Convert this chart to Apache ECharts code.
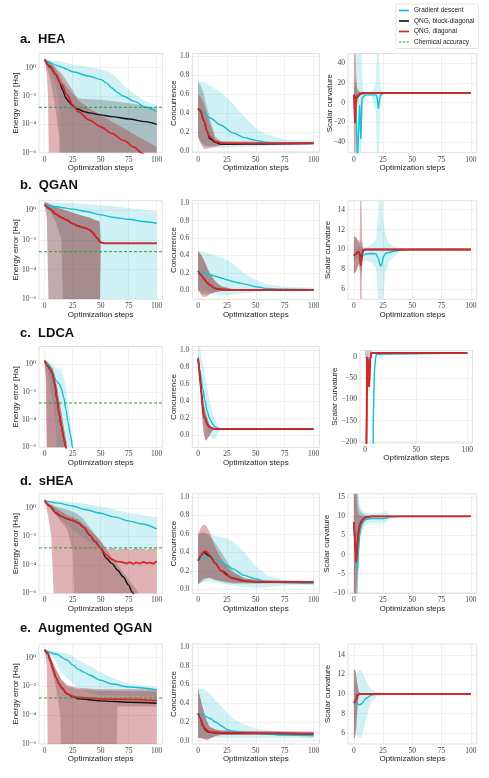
<!DOCTYPE html>
<html><head><meta charset="utf-8">
<script src="https://cdn.jsdelivr.net/npm/echarts@6/dist/echarts.min.js"></script>
<style>html,body{margin:0;padding:0;background:#fff}#c{width:489px;height:778px}</style>
</head><body><div id="c"></div>
<script>
// ---------------- DATA ----------------
// Row a: HEA
const aE_gdX = [0,5,10,13,15,20,25,40,50,55,60,65,70,80,90,100];
const aE_gd = [3.7,2.2,1.5,1.3,1.1,0.76,0.51,0.25,0.15,0.085,0.037,0.018,0.01,4.2e-3,1.6e-3,8e-4];
const aE_gdHi = [3.7,3.4,3.0,2.8,2.6,2.1,1.7,1.1,0.76,0.6,0.4,0.18,0.063,0.014,4.5e-3,2.2e-3];
const aE_gdLoX = [0,5,10,13,15,100];
const aE_gdLo = [3.7,0.6,0.06,3e-3,1e-8,1e-8];
const aE_bdX = [0,5,10,13,16,19,22,24,27,30,35,40,50,60,75,90,100];
const aE_bd = [3.7,1.1,0.33,0.11,0.028,7.2e-3,3.7e-3,2.4e-3,1.55e-3,1.17e-3,7.9e-4,6.5e-4,4.7e-4,3.5e-4,2.4e-4,1.55e-4,1e-4];
const aE_bdHi = [3.7,2.8,0.76,0.32,0.1,0.05,0.025,0.016,0.01,7.2e-3,6.3e-3,6e-3,5.5e-3,4.5e-3,3.2e-3,2e-3,1.4e-3];
const aE_bdLoX = [0,5,10,13,14,100];
const aE_bdLo = [3.7,0.16,1e-3,1e-5,1e-8,1e-8];
const aE_dgX = [0,5,10,15,20,25,30,40,50,60,70,80,86,90];
const aE_dg = [3.7,1.3,0.33,0.065,0.0126,2.4e-3,8e-4,2e-4,6.8e-5,2.3e-5,7.6e-6,2.5e-6,1e-6,6.3e-7];
const aE_dgHiX = [0,5,10,15,20,25,30,40,50,60,75,100];
const aE_dgHi = [3.7,2.2,1.0,0.4,0.1,0.025,5e-3,1.26e-3,5e-4,1.6e-4,3.2e-5,2.5e-6];
const aE_dgLoX = [0,2,3,4,100];
const aE_dgLo = [3.7,0.3,0.01,1e-8,1e-8];

const aC_gdX = [0,5,10,20,30,40,50,60,75,100];
const aC_gd = [0.45,0.41,0.35,0.27,0.19,0.14,0.11,0.088,0.08,0.08];
const aC_gdHi = [0.73,0.73,0.69,0.62,0.5,0.36,0.24,0.17,0.12,0.11];
const aC_gdLo = [0.15,0.06,0.04,0.03,0.035,0.04,0.045,0.05,0.06,0.065];
const aC_bdX = [0,2,5,8,10,15,20,25,40,100];
const aC_bd = [0.45,0.42,0.32,0.2,0.13,0.09,0.07,0.068,0.072,0.08];
const aC_bdHi = [0.73,0.7,0.6,0.45,0.35,0.15,0.1,0.095,0.09,0.09];
const aC_bdLo = [0.15,0.1,0.05,0.05,0.05,0.055,0.06,0.062,0.065,0.07];
const aC_dgX = [0,2,5,8,10,15,20,30,100];
const aC_dg = [0.45,0.43,0.33,0.2,0.15,0.1,0.08,0.078,0.08];
const aC_dgHi = [0.6,0.58,0.5,0.38,0.3,0.12,0.1,0.1,0.09];
const aC_dgLo = [0.15,0.08,0.02,0.025,0.03,0.04,0.06,0.065,0.07];

const aS_gdX = [0,1,2,3,4,5,6,7,8,10,15,19,20,21,22,23,25,30,100];
const aS_gd = [8,7,-10,-60,-60,-2,-37,5,7,8,8,8,4,-6,4,8,9.5,10,10];
const aS_gdHi = [9,12,80,80,80,80,80,30,12,10,10.5,20,80,80,30,12,10.5,10,10];
const aS_gdLo = [7,2,-80,-80,-80,-80,-80,-20,2,6,7,-10,-80,-80,-30,4,9.5,10,10];
const aS_bdX = [0,1,2,3,4,5,6,7,10,100];
const aS_bd = [8,5,3,6,8,9,9.5,9.7,10,10];
const aS_bdHi = [12,25,20,15,13,12,11,10.5,10.2,10];
const aS_bdLo = [4,-10,-8,0,4,6,8,9,9.8,10];
const aS_dgX = [0,1,2,3,4,5,6,8,10,100];
const aS_dg = [8,-21,4,7,8,8.5,9,9.5,10,10];
const aS_dgHi = [80,80,30,12,11,10.5,10.3,10.1,10,10];
const aS_dgLo = [-80,-80,-20,3,6,7.5,8.5,9.3,10,10];

// Row b: QGAN
const bE_gdX = [0,10,25,37,50,62,75,88,100];
const bE_gd = [2.3,1.7,1.17,0.81,0.48,0.32,0.245,0.17,0.13];
const bE_gdHi = [3.5,3.3,3.0,2.6,2.1,1.8,1.4,1.07,0.81];
const bE_gdLoX = [0,2,4,100];
const bE_gdLo = [2.3,0.3,1e-8,1e-8];
const bE_dgX = [0,5,10,15,20,25,30,35,40,43,46,50,53,100];
const bE_dg = [2.3,1.17,0.54,0.32,0.21,0.123,0.085,0.066,0.048,0.03,0.015,6.9e-3,5.8e-3,5.8e-3];
const bE_dgHiX = [0,10,20,30,40,45,49,50,53,100];
const bE_dgHi = [3.5,1.6,0.9,0.5,0.32,0.22,0.18,7e-3,5.8e-3,5.8e-3];
const bE_dgLoX = [0,2,4,49,50,53,100];
const bE_dgLo = [2.3,0.3,1e-8,1e-8,6.8e-3,5.8e-3,5.8e-3];
const bE_bdLoX = [0,5,10,15,17,49,50,53,100];
const bE_bdLo = [2.3,0.8,0.15,0.01,1e-8,1e-8,6.8e-3,5.8e-3,5.8e-3];

const bC_gdX = [0,5,10,15,20,25,30,35,40,50,60,75,100];
const bC_gd = [0.22,0.2,0.18,0.16,0.14,0.12,0.1,0.085,0.07,0.04,0.02,0.01,0.005];
const bC_gdHi = [0.45,0.44,0.42,0.4,0.38,0.35,0.31,0.25,0.19,0.12,0.065,0.04,0.03];
const bC_gdLo = [0.0,-0.01,-0.02,-0.04,-0.06,-0.06,-0.05,-0.04,-0.035,-0.02,-0.01,-0.005,0.0];
const bC_dgX = [0,3,5,8,10,15,20,30,100];
const bC_dg = [0.22,0.17,0.13,0.085,0.06,0.02,0.008,0.003,0.0];
const bC_dgHi = [0.45,0.4,0.35,0.25,0.2,0.1,0.04,0.01,0.003];
const bC_dgLo = [0.0,-0.06,-0.08,-0.07,-0.05,-0.02,-0.01,0.0,0.0];
const bC_bdHi = [0.45,0.4,0.35,0.26,0.2,0.1,0.05,0.015,0.003];
const bC_bdLo = [0.0,-0.04,-0.05,-0.05,-0.04,-0.02,-0.01,0.0,0.0];

const bS_gdX = [0,2,4,5,6,7,8,10,15,19,20,21,22,23,24,25,27,30,35,40,50,100];
const bS_gd = [9.4,9.6,9.75,9.6,8.9,9.3,9.5,9.55,9.6,9.55,9.4,9.1,8.6,8.3,8.6,9.2,9.6,9.7,9.85,9.95,10,10];
const bS_gdHi = [10,10.2,10.4,10.3,10.3,10.2,10.2,10.2,10.5,11,12.5,14,20,20,20,13,11.5,10.6,10.3,10.1,10,10];
const bS_gdLo = [8.8,9,9.1,8.9,7.5,8.4,8.8,8.9,8.7,8.1,6.5,4,0,0,0,5,7.7,8.8,9.4,9.8,10,10];
const bS_dgX = [0,2,4,5,6,7,8,10,100];
const bS_dg = [9.4,9.6,9.8,9.5,8.4,9.5,9.95,10,10];
const bS_dgHi = [11.3,11.2,10.8,11,20,11,10.1,10,10];
const bS_dgLo = [7.6,7.8,8.5,8,0,8.5,9.8,10,10];
const bS_bdHi = [11.3,11.2,10.8,10.5,11,10.5,10.1,10,10];
const bS_bdLo = [7.6,7.8,8.5,8.5,7,8.5,9.8,10,10];

// Row c: LDCA
const cE_gdX = [0,3,5,8,10,13,15,17,19,21,23,25,27];
const cE_gd = [1.7,1.0,0.58,0.16,0.068,0.039,0.017,4.1e-3,5.8e-4,6e-5,8.5e-6,1e-6,1e-7];
const cE_gdHi = [2.2,1.8,1.26,0.8,0.56,0.4,0.32,0.126,0.016,1e-3,6.3e-5,3.2e-6,3.2e-7];
const cE_gdLoX = [0,3,5,8,10,12,100];
const cE_gdLo = [1.4,0.25,0.03,1e-3,3e-5,1e-8,1e-8];
const cE_dgX = [0,3,5,7,9,11,13,15,17,19,21];
const cE_dg = [1.7,0.7,0.41,0.21,0.039,3.2e-3,2.5e-4,3.5e-5,5e-6,1e-6,1.6e-7];
const cE_dgHi = [2.2,1.26,0.8,0.5,0.16,0.025,2.5e-3,3.2e-4,3.2e-5,4e-6,3.2e-7];
const cE_dgLoX = [0,1,2,100];
const cE_dgLo = [1.7,0.1,1e-8,1e-8];
const cE_bdLoX = [0,1.5,2.5,100];
const cE_bdLo = [1.7,0.05,1e-8,1e-8];

const cC_gdX = [0,2,4,6,8,10,12,14,16,18,20,100];
const cC_gd = [0.9,0.72,0.55,0.4,0.28,0.2,0.15,0.11,0.09,0.08,0.077,0.077];
const cC_gdHi = [1.1,1.0,0.85,0.7,0.55,0.4,0.3,0.22,0.15,0.11,0.08,0.077];
const cC_gdLo = [0.75,0.5,0.32,0.15,0.05,0.0,-0.04,-0.04,-0.01,0.04,0.07,0.077];
const cC_dgX = [0,1,2,3,4,5,6,7,8,10,12,15,100];
const cC_dg = [0.9,0.78,0.63,0.49,0.34,0.22,0.21,0.17,0.13,0.1,0.085,0.077,0.077];
const cC_dgHi = [0.95,0.88,0.75,0.6,0.45,0.35,0.3,0.25,0.2,0.12,0.09,0.08,0.077];
const cC_dgLo = [0.8,0.65,0.5,0.3,0.15,0.02,-0.04,-0.06,-0.04,0.0,0.05,0.075,0.077];

const cS_gdX = [0,5,6,7,8,9,10,11,12,100];
const cS_gd = [-500,-500,-250,-500,-150,-40,-5,7,10,10];
const cS_gdHi = [-400,-400,-200,-400,-100,-20,0,9,10.5,10];
const cS_gdLo = [-600,-600,-300,-600,-200,-60,-15,5,9.5,10];
const cS_dgX = [0,1,2,3,4,5,6,100];
const cS_dg = [-400,-300,0,-10,-70,-5,10,10];
const cS_dgHi = [-300,-150,10,0,-50,5,10.5,10];
const cS_dgLo = [-500,-400,-10,-30,-90,-15,9.5,10];
const cS_bdBX = [0,6,7,100];
const cS_bdHi = [40,40,10.5,10];
const cS_bdLo = [-3,-3,9.5,10];

// Row d: sHEA
const dE_gdX = [0,12,25,37,50,62,75,87,100];
const dE_gd = [3.3,2.2,1.4,0.76,0.43,0.24,0.126,0.076,0.035];
const dE_gdHi = [3.3,3.2,2.6,2.0,1.3,0.8,0.45,0.32,0.23];
const dE_gdLoX = [0,5,10,20,30,40,50,60,100];
const dE_gdLo = [3.2,1.0,0.32,0.063,0.016,4e-3,1.6e-3,1.1e-3,1.1e-3];
const dE_dgX = [0,5,10,15,20,25,30,35,40,45,50,55,60,65,70,73,76,79,82,85,88,91,94,97,100];
const dE_dg = [3.3,1.32,0.45,0.26,0.18,0.135,0.091,0.044,0.013,4.5e-3,1.5e-3,5.1e-4,2.5e-4,1.74e-4,1.55e-4,1.26e-4,1.58e-4,1.2e-4,1.51e-4,1.26e-4,1.66e-4,1.32e-4,1.48e-4,1.26e-4,1.9e-4];
const dE_dgHiX = [0,10,20,30,40,50,55,58,61,64,67,70,73,76,79,82,85,88,91,94,97,100];
const dE_dgHi = [3.3,1.0,0.32,0.16,0.032,5e-3,1.4e-3,1.26e-3,1.6e-3,1.1e-3,1.4e-3,1.26e-3,1.6e-3,1.1e-3,1.3e-3,1.6e-3,1.2e-3,1.4e-3,1.1e-3,1.5e-3,1.26e-3,1.4e-3];
const dE_dgLoX = [0,3,6,9,100];
const dE_dgLo = [3.2,0.32,0.01,1e-8,1e-8];
const dE_bdX = [0,5,10,15,20,25,30,35,40,45,50,55,60,65,70,75,78,80];
const dE_bd = [3.3,1.32,0.45,0.26,0.18,0.135,0.091,0.044,0.013,4.5e-3,1.5e-3,3e-4,1.3e-4,4.5e-5,1.5e-5,3.9e-6,1.3e-6,6.3e-7];
const dE_bdHiX = [0,10,20,28,34,40,50,60,75,85,90];
const dE_bdHi = [3.3,1.26,0.8,0.45,0.2,0.047,4.1e-3,3.6e-4,9.5e-6,8.5e-7,2.5e-7];
const dE_bdLoX = [0,10,20,25,27,100];
const dE_bdLo = [3.2,0.32,0.032,1e-3,1e-8,1e-8];

const dC_gdX = [0,5,10,15,20,25,30,40,50,60,75,100];
const dC_gd = [0.31,0.34,0.35,0.32,0.3,0.26,0.22,0.15,0.11,0.08,0.07,0.06];
const dC_gdHi = [0.6,0.6,0.6,0.58,0.56,0.55,0.52,0.4,0.25,0.15,0.1,0.09];
const dC_gdLo = [0.05,0.08,0.09,0.07,0.06,0.05,0.04,0.02,0.01,0.02,0.04,0.05];
const dC_dgX = [0,3,5,7,10,15,20,25,30,40,50,75,100];
const dC_dg = [0.31,0.37,0.41,0.41,0.37,0.28,0.2,0.15,0.115,0.087,0.08,0.078,0.078];
const dC_dgHi = [0.6,0.68,0.7,0.69,0.62,0.45,0.33,0.25,0.18,0.12,0.1,0.09,0.09];
const dC_dgLo = [0.05,0.1,0.12,0.12,0.12,0.1,0.09,0.08,0.07,0.07,0.07,0.07,0.07];
const dC_bdX = [0,5,10,15,20,30,40,50,100];
const dC_bd = [0.31,0.4,0.36,0.28,0.2,0.12,0.09,0.08,0.075];
const dC_bdHi = [0.6,0.62,0.58,0.5,0.4,0.2,0.12,0.1,0.09];
const dC_bdLo = [0.05,0.1,0.13,0.1,0.08,0.06,0.06,0.06,0.07];

const dS_gdX = [0,1,2,3,4,5,7,10,15,20,25,27,30,40,100];
const dS_gd = [8.5,5,0,-4,1.5,5.9,8.1,9.2,9.4,9.4,9.4,9.5,9.8,10,10];
const dS_gdHi = [20,20,20,20,15,13,11.8,11,10.8,10.8,11,11.5,10.5,10.1,10];
const dS_gdLo = [-15,-15,-15,-15,-5,3,6,7.8,8.2,8.2,8.2,8.3,9.2,9.9,10];
const dS_dgX = [0,1,2,3,4,5,7,10,15,100];
const dS_dg = [8.5,3.3,-2.1,2.4,5.9,7.6,8.9,9.8,10,10];
const dS_dgHi = [20,20,18,12,10.5,10.2,10.1,10,10,10];
const dS_dgLo = [-15,-15,-10,-5,1,5,7.8,9.5,10,10];
const dS_bdX = [0,1,2,3,4,5,7,10,15,20,30,100];
const dS_bd = [8.5,3,-1.5,2.5,6,7.8,9,9.8,10,10,10,10];
const dS_bdHi = [20,20,20,17,13,11.5,10.8,10.3,10.2,10.1,10.05,10];
const dS_bdLo = [-15,-15,-15,-12,-2,4,7.5,9,9.4,9.6,9.9,10];

// Row e: Augmented QGAN
const eE_gdX = [0,10,20,25,30,35,40,50,60,75,100];
const eE_gd = [3.5,1.8,0.7,0.32,0.16,0.1,0.063,0.027,0.0148,9.3e-3,6e-3];
const eE_gdHi = [3.5,2.8,2.0,1.26,0.7,0.45,0.28,0.1,0.04,0.016,8.9e-3];
const eE_gdLoX = [0,8,12,15,20,25,30,40,50,100];
const eE_gdLo = [3.5,1.0,0.25,0.1,0.04,0.016,8e-3,4e-3,2.5e-3,2e-3];
const eE_dgX = [0,3,5,8,10,13,15,20,25,30,50,75,100];
const eE_dg = [3.5,2.0,0.68,0.13,0.044,0.0148,8.5e-3,3.2e-3,2.1e-3,1.74e-3,1.38e-3,1.26e-3,1.05e-3];
const eE_bd = [3.5,2.0,0.68,0.13,0.044,0.0148,8.5e-3,3.2e-3,1.9e-3,1.4e-3,1e-3,8e-4,6.9e-4];
const eE_dgHiX = [0,5,10,15,20,30,50,100];
const eE_dgHi = [4,1.26,0.16,0.032,0.0126,8e-3,6.3e-3,6.3e-3];
const eE_dgLoX = [0,2,3,100];
const eE_dgLo = [3.5,0.3,1e-8,1e-8];
const eE_bdHi = [4,1.26,0.16,0.025,0.01,6.3e-3,5e-3,4.5e-3];
const eE_bdLoX = [0,5,10,14,15,64,65,100];
const eE_bdLo = [3.5,0.32,0.01,1e-4,1e-8,1e-8,4e-4,4e-4];

const eC_gdX = [0,5,10,15,20,25,30,40,50,75,100];
const eC_gd = [0.29,0.27,0.24,0.2,0.16,0.12,0.1,0.085,0.078,0.06,0.053];
const eC_gdHi = [0.55,0.55,0.5,0.43,0.37,0.3,0.24,0.17,0.13,0.09,0.08];
const eC_gdLo = [0.03,0.03,0.03,0.03,0.025,0.025,0.025,0.025,0.025,0.025,0.025];
const eC_dgX = [0,2,4,6,8,10,15,20,50,100];
const eC_dg = [0.29,0.24,0.17,0.13,0.11,0.095,0.09,0.085,0.08,0.075];
const eC_bd = [0.29,0.24,0.16,0.12,0.1,0.09,0.085,0.082,0.078,0.073];
const eC_dgHi = [0.55,0.45,0.35,0.27,0.2,0.15,0.12,0.11,0.1,0.095];
const eC_dgLo = [0.03,0.03,0.02,0.015,0.01,0.02,0.05,0.06,0.06,0.06];

const eS_gdX = [0,2,3,5,7,10,13,15,20,25,30,100];
const eS_gd = [9.1,9.07,9.0,8.9,9.05,9.5,9.75,9.9,10,10,10,10];
const eS_gdHi = [10.5,11.5,12,12.5,12.3,11.5,10.8,10.5,10.2,10.1,10,10];
const eS_gdLo = [7.5,6,5.7,5.4,5.8,7.2,8.5,9.2,9.8,9.95,10,10];
const eS_dgX = [0,1,2,3,4,5,100];
const eS_dg = [9.1,9.0,9.4,9.9,10,10,10];
const eS_dgHi = [12.4,12.5,12,11,10.3,10.1,10];
const eS_dgLo = [5.5,5.5,6.5,8.5,9.7,9.9,10];

// Axis values and labels
const chemAcc = 1.6e-3;
const titles = ['a.  HEA','b.  QGAN','c.  LDCA','d.  sHEA','e.  Augmented QGAN'];
const legendNames = ['Gradient descent','QNG, block-diagonal','QNG, diagonal','Chemical accuracy'];
const energyMax = [10, 4.3, 18.6, 10, 9];
const energyTicks = [1e-6, 1e-4, 1e-2, 1];
const concRange = [[-0.02,1.03],[-0.105,1.03],[-0.14,1.04],[-0.047,1.036],[-0.035,1.03]];
const concTicks = [0, 0.2, 0.4, 0.6, 0.8, 1.0];
const scalRange = [[-51,50.2],[5,14.9],[-203,16],[-10.2,15.9],[4.9,15.1]];
const scalTicks = [[-40,-20,0,20,40],[6,8,10,12,14],[-200,-150,-100,-50,0],[-10,-5,0,5,10,15],[6,8,10,12,14]];
const stepTicks = [0,25,50,75,100];
const stepTicksWide = [0,50,100];

// ---------------- LAYOUT / STYLE ----------------
const SERIF = '"Liberation Serif","DejaVu Serif",serif';
const SANS = '"Liberation Sans","DejaVu Sans",sans-serif';
const rowTop = [53.5, 200.7, 346.5, 493.8, 644];
const rowH = [99.2, 98.6, 101, 99.7, 100];
const titleY = [39, 185.5, 333, 481, 628.5];
const colLeft = [39, 192.3, 348];
const colW = [123.3, 127, 128.7];
const scalGap = [14, 16, 21, 17, 16];
const COL = {gd:'#17becf', bd:'#111111', dg:'#d62728'};
const BAND = {gd:'rgba(23,190,207,0.2)', bd:'rgba(0,0,0,0.2)', dg:'rgba(165,45,50,0.36)'};
const LW = {gd:1.4, bd:1.4, dg:1.8};
const NAMES = {gd:'Gradient descent', bd:'QNG, block-diagonal', dg:'QNG, diagonal'};
const ICON_LINE = 'path://M0,0H12V2H0Z';
const ICON_DASH = 'path://M0,0H3V1.3H0Z M4.5,0H7.5V1.3H4.5Z M9,0H12V1.3H9Z';

function S(x, y, hx, hi, lx, lo){ return {x, y, hx, hi, lx, lo}; }

const panels = [
  {row:0,col:0,kind:'E',
   gd:S(aE_gdX,aE_gd,aE_gdX,aE_gdHi,aE_gdLoX,aE_gdLo),
   bd:S(aE_bdX,aE_bd,aE_bdX,aE_bdHi,aE_bdLoX,aE_bdLo),
   dg:S(aE_dgX,aE_dg,aE_dgHiX,aE_dgHi,aE_dgLoX,aE_dgLo)},
  {row:0,col:1,kind:'C',
   gd:S(aC_gdX,aC_gd,aC_gdX,aC_gdHi,aC_gdX,aC_gdLo),
   bd:S(aC_bdX,aC_bd,aC_bdX,aC_bdHi,aC_bdX,aC_bdLo),
   dg:S(aC_dgX,aC_dg,aC_dgX,aC_dgHi,aC_dgX,aC_dgLo)},
  {row:0,col:2,kind:'S',
   gd:S(aS_gdX,aS_gd,aS_gdX,aS_gdHi,aS_gdX,aS_gdLo),
   bd:S(aS_bdX,aS_bd,aS_bdX,aS_bdHi,aS_bdX,aS_bdLo),
   dg:S(aS_dgX,aS_dg,aS_dgX,aS_dgHi,aS_dgX,aS_dgLo)},
  {row:1,col:0,kind:'E',
   gd:S(bE_gdX,bE_gd,bE_gdX,bE_gdHi,bE_gdLoX,bE_gdLo),
   bd:S(bE_dgX,bE_dg,bE_dgHiX,bE_dgHi,bE_bdLoX,bE_bdLo),
   dg:S(bE_dgX,bE_dg,bE_dgHiX,bE_dgHi,bE_dgLoX,bE_dgLo)},
  {row:1,col:1,kind:'C',
   gd:S(bC_gdX,bC_gd,bC_gdX,bC_gdHi,bC_gdX,bC_gdLo),
   bd:S(bC_dgX,bC_dg,bC_dgX,bC_bdHi,bC_dgX,bC_bdLo),
   dg:S(bC_dgX,bC_dg,bC_dgX,bC_dgHi,bC_dgX,bC_dgLo)},
  {row:1,col:2,kind:'S',
   gd:S(bS_gdX,bS_gd,bS_gdX,bS_gdHi,bS_gdX,bS_gdLo),
   bd:S(bS_dgX,bS_dg,bS_dgX,bS_bdHi,bS_dgX,bS_bdLo),
   dg:S(bS_dgX,bS_dg,bS_dgX,bS_dgHi,bS_dgX,bS_dgLo)},
  {row:2,col:0,kind:'E',
   gd:S(cE_gdX,cE_gd,cE_gdX,cE_gdHi,cE_gdLoX,cE_gdLo),
   bd:S(cE_dgX,cE_dg,cE_dgX,cE_dgHi,cE_bdLoX,cE_bdLo),
   dg:S(cE_dgX,cE_dg,cE_dgX,cE_dgHi,cE_dgLoX,cE_dgLo)},
  {row:2,col:1,kind:'C',
   gd:S(cC_gdX,cC_gd,cC_gdX,cC_gdHi,cC_gdX,cC_gdLo),
   bd:S(cC_dgX,cC_dg,cC_dgX,cC_dgHi,cC_dgX,cC_dgLo),
   dg:S(cC_dgX,cC_dg,cC_dgX,cC_dgHi,cC_dgX,cC_dgLo)},
  {row:2,col:2,kind:'S',
   gd:S(cS_gdX,cS_gd,cS_gdX,cS_gdHi,cS_gdX,cS_gdLo),
   bd:S(cS_dgX,cS_dg,cS_bdBX,cS_bdHi,cS_bdBX,cS_bdLo),
   dg:S(cS_dgX,cS_dg,cS_dgX,cS_dgHi,cS_dgX,cS_dgLo)},
  {row:3,col:0,kind:'E',
   gd:S(dE_gdX,dE_gd,dE_gdX,dE_gdHi,dE_gdLoX,dE_gdLo),
   bd:S(dE_bdX,dE_bd,dE_bdHiX,dE_bdHi,dE_bdLoX,dE_bdLo),
   dg:S(dE_dgX,dE_dg,dE_dgHiX,dE_dgHi,dE_dgLoX,dE_dgLo)},
  {row:3,col:1,kind:'C',
   gd:S(dC_gdX,dC_gd,dC_gdX,dC_gdHi,dC_gdX,dC_gdLo),
   bd:S(dC_bdX,dC_bd,dC_bdX,dC_bdHi,dC_bdX,dC_bdLo),
   dg:S(dC_dgX,dC_dg,dC_dgX,dC_dgHi,dC_dgX,dC_dgLo)},
  {row:3,col:2,kind:'S',
   gd:S(dS_gdX,dS_gd,dS_gdX,dS_gdHi,dS_gdX,dS_gdLo),
   bd:S(dS_bdX,dS_bd,dS_bdX,dS_bdHi,dS_bdX,dS_bdLo),
   dg:S(dS_dgX,dS_dg,dS_dgX,dS_dgHi,dS_dgX,dS_dgLo)},
  {row:4,col:0,kind:'E',
   gd:S(eE_gdX,eE_gd,eE_gdX,eE_gdHi,eE_gdLoX,eE_gdLo),
   bd:S(eE_dgX,eE_bd,eE_dgHiX,eE_bdHi,eE_bdLoX,eE_bdLo),
   dg:S(eE_dgX,eE_dg,eE_dgHiX,eE_dgHi,eE_dgLoX,eE_dgLo)},
  {row:4,col:1,kind:'C',
   gd:S(eC_gdX,eC_gd,eC_gdX,eC_gdHi,eC_gdX,eC_gdLo),
   bd:S(eC_dgX,eC_bd,eC_dgX,eC_dgHi,eC_dgX,eC_dgLo),
   dg:S(eC_dgX,eC_dg,eC_dgX,eC_dgHi,eC_dgX,eC_dgLo)},
  {row:4,col:2,kind:'S',
   gd:S(eS_gdX,eS_gd,eS_gdX,eS_gdHi,eS_gdX,eS_gdLo),
   bd:S(eS_dgX,eS_dg,eS_dgX,eS_dgHi,eS_dgX,eS_dgLo),
   dg:S(eS_dgX,eS_dg,eS_dgX,eS_dgHi,eS_dgX,eS_dgLo)}
];

const SUP = {'0':'\u2070','1':'\u00b9','2':'\u00b2','3':'\u00b3','4':'\u2074','5':'\u2075','6':'\u2076','7':'\u2077','8':'\u2078','9':'\u2079','-':'\u207b'};
function logLabel(v){ const e = Math.round(Math.log10(v)); return '10' + String(e).split('').map(c => SUP[c]).join(''); }
function minusLabel(v){ return String(v).replace('-', '\u2212'); }

const grids = [], xAxes = [], yAxes = [], series = [];
const nameStyle = {fontFamily: SANS, fontSize: 8, color: '#222'};
const labStyle = {fontFamily: SERIF, fontSize: 7.5, color: '#444'};
const split = {show: true, lineStyle: {color: '#ececec', width: 0.8}};

function bandSeries(gi, s, fill){
  return {
    type: 'custom', name: 'band', xAxisIndex: gi, yAxisIndex: gi, silent: true, clip: true, z: 1,
    data: [[s.hx[0], s.hi[0]]],
    renderItem: function(params, api){
      const pts = [];
      for (let i = 0; i < s.hx.length; i++) pts.push(api.coord([s.hx[i], s.hi[i]]));
      for (let i = s.lx.length - 1; i >= 0; i--) pts.push(api.coord([s.lx[i], s.lo[i]]));
      const cs = params.coordSys;
      return {type: 'polygon', shape: {points: pts}, style: {fill: fill},
        clipPath: {type: 'rect', shape: {x: cs.x, y: cs.y, width: cs.width, height: cs.height}}};
    }
  };
}

panels.forEach(p => {
  const gi = grids.length;
  let rect = [colLeft[p.col], rowTop[p.row], colW[p.col], rowH[p.row]];
  const narrow = (p.row === 2 && p.col === 2);
  if (narrow) rect = [360, 350.5, 112.5, 92.5];
  grids.push({left: rect[0], top: rect[1], width: rect[2], height: rect[3], show: true,
    backgroundColor: '#fff', borderColor: '#e0e0e0', borderWidth: 1, containLabel: false, outerBoundsMode: 'none'});
  const xt = narrow ? stepTicksWide : stepTicks;
  xAxes.push({gridIndex: gi, type: 'value', min: -5, max: 105,
    axisLine: {show: false}, axisTick: {show: false, customValues: xt},
    axisLabel: {customValues: xt, margin: 3, ...labStyle},
    splitLine: split, name: 'Optimization steps', nameLocation: 'middle', nameGap: 11,
    nameMoveOverlap: false, nameTextStyle: nameStyle});
  let yc;
  if (p.kind === 'E') yc = {type: 'log', min: 1e-6, max: energyMax[p.row], ticks: energyTicks, fmt: logLabel, name: 'Energy error [Ha]', gap: 19};
  else if (p.kind === 'C') yc = {type: 'value', min: concRange[p.row][0], max: concRange[p.row][1], ticks: concTicks, fmt: v => v.toFixed(1), name: 'Concurrence', gap: 15};
  else yc = {type: 'value', min: scalRange[p.row][0], max: scalRange[p.row][1], ticks: scalTicks[p.row], fmt: minusLabel, name: 'Scalar curvature', gap: scalGap[p.row]};
  const ya = {gridIndex: gi, type: yc.type, min: yc.min, max: yc.max,
    axisLine: {show: false}, axisTick: {show: false, customValues: yc.ticks},
    axisLabel: {customValues: yc.ticks, formatter: yc.fmt, margin: 3, ...labStyle},
    splitLine: split, name: yc.name, nameLocation: 'middle', nameGap: yc.gap,
    nameMoveOverlap: false, nameTextStyle: nameStyle};
  if (yc.type === 'log') ya.logBase = 10;
  yAxes.push(ya);
  ['gd','bd','dg'].forEach(k => series.push(bandSeries(gi, p[k], BAND[k])));
  const sm = p.kind === 'S' ? false : 0.3;
  ['gd','bd','dg'].forEach(k => {
    const s = p[k];
    series.push({type: 'line', name: NAMES[k], xAxisIndex: gi, yAxisIndex: gi,
      data: s.x.map((v, i) => [v, s.y[i]]), symbol: 'none', showSymbol: false,
      smooth: sm, smoothMonotone: 'x', clip: true, silent: true, z: 2,
      lineStyle: {color: COL[k], width: LW[k]}, itemStyle: {color: COL[k]}});
  });
  if (p.kind === 'E') {
    series.push({type: 'line', name: 'Chemical accuracy', xAxisIndex: gi, yAxisIndex: gi,
      data: [[-5, chemAcc], [105, chemAcc]], symbol: 'none', silent: true, z: 3,
      lineStyle: {color: '#2ca02c', width: 1, type: [3, 2]}, itemStyle: {color: '#2ca02c'}});
  }
});

const graphics = titles.map((t, i) => ({type: 'text', x: 20, y: titleY[i],
  style: {text: t, font: 'bold 13px "Liberation Sans", "DejaVu Sans", sans-serif', fill: '#111', verticalAlign: 'middle'}}));

const chart = echarts.init(document.getElementById('c'), null, {renderer: 'canvas'});
chart.setOption({
  animation: false,
  backgroundColor: '#fff',
  grid: grids, xAxis: xAxes, yAxis: yAxes, series: series,
  graphic: graphics,
  legend: {data: legendNames.map((n, i) => ({name: n, icon: i === 3 ? ICON_DASH : ICON_LINE})),
    orient: 'vertical', left: 396, top: 4, itemWidth: 10, itemHeight: 6, itemGap: 3.5,
    padding: [3, 4, 3, 3], backgroundColor: '#fff', borderColor: '#dcdcdc', borderWidth: 0.8, borderRadius: 1,
    selectedMode: false, textStyle: {fontFamily: SANS, fontSize: 6.5, color: '#222'}}
});
</script></body></html>
